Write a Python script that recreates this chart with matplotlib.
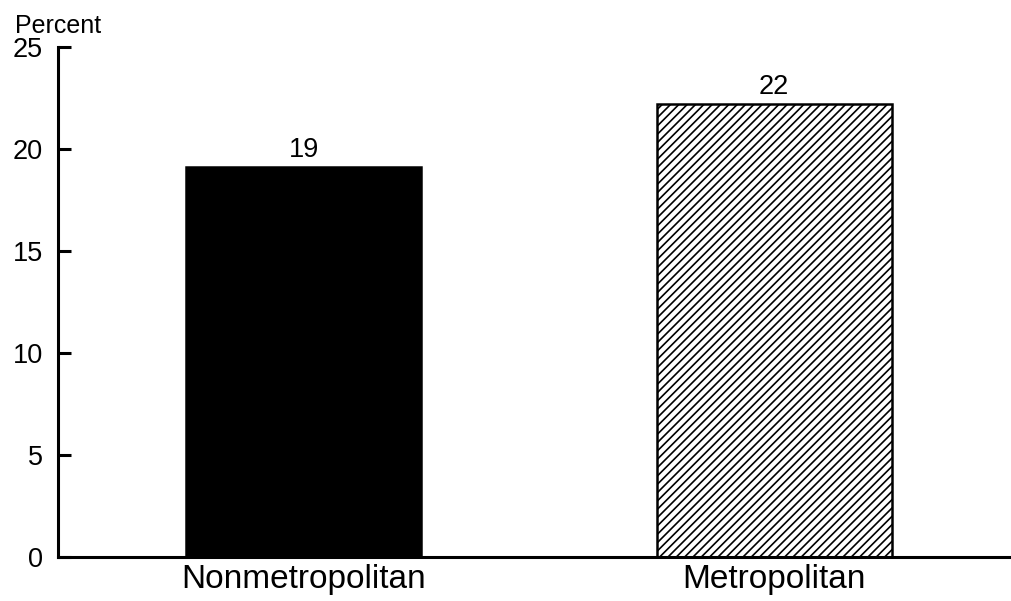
import matplotlib
matplotlib.use("Agg")
import matplotlib.pyplot as plt

categories = ["Nonmetropolitan", "Metropolitan"]
values = [19.1, 22.2]
value_labels = ["19", "22"]
yticks = [0, 5, 10, 15, 20, 25]

plt.rcParams['font.family'] = ['Liberation Sans', 'DejaVu Sans']
plt.rcParams['hatch.linewidth'] = 1.2

W, H = 1012, 601
fig = plt.figure(figsize=(W / 100, H / 100), dpi=100)
ax = fig.add_axes([58 / W, 44 / H, 1 - 58 / W, 510 / H])

x = list(range(len(categories)))
ax.bar(x[0], values[0], width=0.5, color="black", edgecolor="black", linewidth=1.8)
ax.bar(x[1], values[1], width=0.5, color="white", edgecolor="black",
       linewidth=1.8, hatch="////")

for xi, v, lab in zip(x, values, value_labels):
    ax.annotate(lab, (xi, v), xytext=(0, 3), textcoords="offset points",
                ha="center", va="bottom", fontsize=19.5)

ax.set_xlim(-0.523, 1.506)
ax.set_ylim(0, 25)
ax.set_yticks(yticks)
ax.set_yticklabels([str(t) for t in yticks], fontsize=19.5)
ax.set_xticks(x)
ax.set_xticklabels(categories, fontsize=24)
ax.tick_params(axis="x", length=0, pad=5)
ax.tick_params(axis="y", direction="in", length=9, width=2.2, pad=11)

for s in ["top", "right"]:
    ax.spines[s].set_visible(False)
ax.spines["left"].set_linewidth(2.2)
ax.spines["bottom"].set_linewidth(2.2)

fig.text(15 / W, 1 - 33 / H, "Percent", fontsize=18, ha="left", va="baseline")

fig.savefig("out.png", dpi=100)
